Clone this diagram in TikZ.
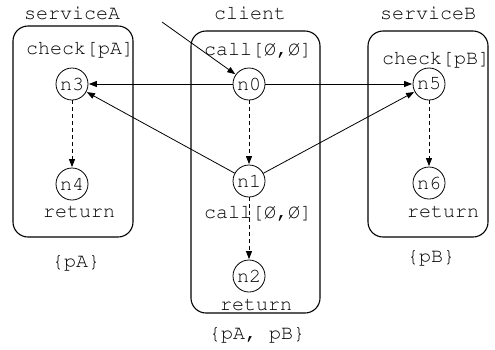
\documentclass[tikz,border=0pt]{standalone}
\usepackage[T1]{fontenc}
\usepackage{courier}
\renewcommand{\familydefault}{\ttdefault}
\usetikzlibrary{arrows.meta}
\begin{document}
\begin{tikzpicture}[x=1pt,y=-1pt,
  font=\fontsize{20}{22}\selectfont,
  box/.style={draw, line width=1.1pt, rounded corners=15pt, inner sep=0pt},
  st/.style={draw, circle, line width=0.8pt, minimum size=32pt, inner sep=0pt},
  lbl/.style={inner sep=0pt, anchor=center},
  arr/.style={line width=0.8pt, -{Triangle[length=8pt,width=6pt]}, shorten >=0.5pt},
  darr/.style={arr, dash pattern=on 4pt off 3pt}]
\useasboundingbox (0,0) rectangle (495,349);
% boxes
\node[box, minimum width=120pt, minimum height=211pt] (boxA) at (73,131.5) {};
\node[box, minimum width=129pt, minimum height=282pt] (boxC) at (255.5,172) {};
\node[box, minimum width=120pt, minimum height=206pt] (boxB) at (428,134) {};
% titles
\node[lbl] (tA) at (72,13) {serviceA};
\node[lbl] (tC) at (250,13) {client};
\node[lbl] (tB) at (428,13) {serviceB};
% labels
\node[lbl] (lA) at (80,50) {check[pA]};
\node[lbl] (lC) at (258,50) {call[\O,\O]};
\node[lbl] (lB) at (436,60) {check[pB]};
\node[lbl] (rA) at (79,212) {return};
\node[lbl] (lC2) at (258,213) {call[\O,\O]};
\node[lbl] (rC) at (256,305) {return};
\node[lbl] (rB) at (443,212) {return};
\node[lbl] (sA) at (76,263) {\{pA\}};
\node[lbl] (sB) at (431,258) {\{pB\}};
\node[lbl] (sC) at (257,335) {\{pA, pB\}};
% states
\node[st] (n3) at (72,84) {n3};
\node[st] (n4) at (72,184) {n4};
\node[st] (n0) at (249,84) {n0};
\node[st] (n1) at (249,181) {n1};
\node[st] (n2) at (249,276) {n2};
\node[st] (n5) at (429,84) {n5};
\node[st] (n6) at (429,183) {n6};
\coordinate (start) at (162,22);
% edges
\draw[arr] (start) -- (n0);
\draw[arr] (n0) -- (n3);
\draw[arr] (n0) -- (n5);
\draw[darr] (n0) -- (n1);
\draw[arr] (n1) -- (n3);
\draw[arr] (n1) -- (n5);
\draw[darr] (n1) -- (n2);
\draw[darr] (n3) -- (n4);
\draw[darr] (n5) -- (n6);
\end{tikzpicture}
\end{document}
